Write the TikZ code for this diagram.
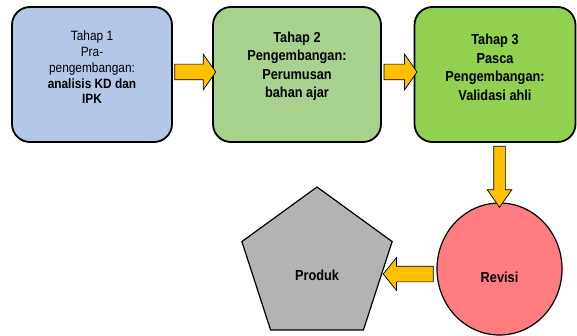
\documentclass[tikz,border=0pt]{standalone}
\usepackage{fontspec}
\usepackage{tikz}
\usetikzlibrary{calc,shapes.geometric,shapes.arrows}
\newfontfamily\narrowfont{Liberation Sans}[FakeStretch=0.88]
\definecolor{stageone}{HTML}{B4C7E7}
\definecolor{stagetwo}{HTML}{A9D18E}
\definecolor{stagethree}{HTML}{92D050}
\definecolor{revfill}{HTML}{FF7C80}
\definecolor{prodfill}{HTML}{B3B3B3}
\definecolor{gold}{HTML}{FFC000}
\tikzset{
  stage/.style={draw=black, line width=1.8pt, rounded corners=18pt, inner sep=0pt},
  txt/.style={align=center, font=\narrowfont\fontsize{14.5}{18.5}\selectfont\bfseries},
  txtone/.style={align=center, font=\narrowfont\fontsize{13.5}{15.8}\selectfont},
  blk/.style={single arrow, draw=black, line width=0.7pt, fill=gold},
  endshape/.style={draw=black, line width=1.2pt, inner sep=0pt},
}

\begin{document}
\begin{tikzpicture}[x=1pt, y=-1pt]
  \useasboundingbox (0,0) rectangle (577,336);
  % stages
  \node[stage, fill=stageone, minimum width=160, minimum height=135] (s1) at (92,74.5) {};
  \node[stage, fill=stagetwo, minimum width=168, minimum height=135] (s2) at (297,74.5) {};
  \node[stage, fill=stagethree, minimum width=161, minimum height=135] (s3) at (495,74.5) {};
  \node[txtone] at ([yshift=7]s1.center) {Tahap 1\\Pra-\\pengembangan:\\\textbf{analisis KD dan}\\\textbf{IPK}};
  \node[txt] at ([yshift=8]s2.center) {Tahap 2\\Pengembangan:\\Perumusan\\bahan ajar};
  \node[txt] at ([yshift=7]s3.center) {Tahap 3\\Pasca\\Pengembangan:\\Validasi ahli};
  % revisi and produk
  \node[endshape, ellipse, fill=revfill, minimum width=125, minimum height=132] (rv) at (499.5,269) {};
  \node[txt] at ([yshift=-8]rv.center) {Revisi};
  \node[endshape, regular polygon, regular polygon sides=5, fill=prodfill, minimum size=158] (pd) at (317,266) {};
  \node[txt] at ([yshift=-9]pd.center) {Produk};
  % block arrows
  \node[blk, inner sep=7.5pt, minimum height=41, minimum width=35, single arrow head extend=10, single arrow tip angle=110]
    (a1) at ($(s1.east)!0.5!(s2.west)+(0,-2.5)$) {};
  \node[blk, inner sep=7.5pt, minimum height=33, minimum width=35, single arrow head extend=10, single arrow tip angle=110]
    (a2) at ($(s2.east)!0.5!(s3.west)+(0,-2.5)$) {};
  \node[blk, inner sep=5.5pt, minimum height=61, minimum width=24, single arrow head extend=6.5, single arrow tip angle=70, shape border rotate=270]
    (a3) at ($(rv.north |- s3.south)!0.5!(rv.north)$) {};
  \node[blk, inner sep=7.5pt, minimum height=50, minimum width=32, single arrow head extend=8.5, single arrow tip angle=102, shape border rotate=180]
    (a4) at ($(rv.west)+(-25,5)$) {};
\end{tikzpicture}
\end{document}
